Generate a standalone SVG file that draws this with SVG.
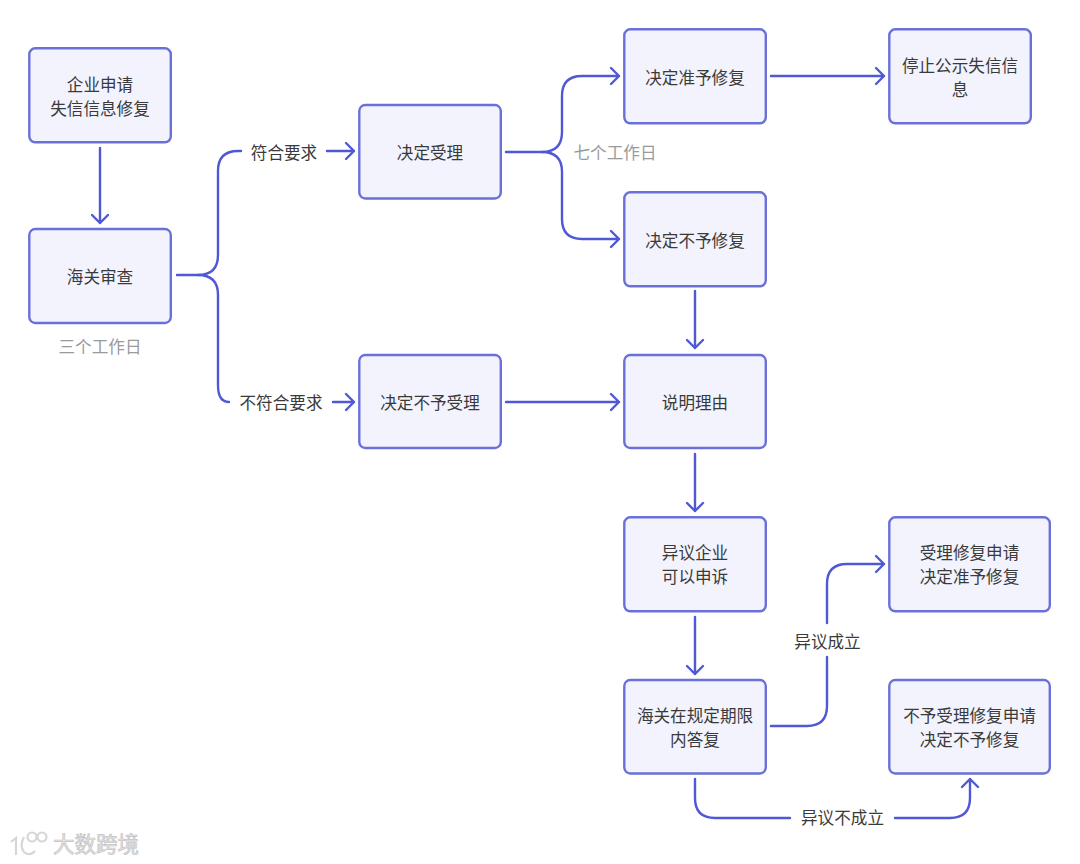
<svg xmlns="http://www.w3.org/2000/svg" width="1080" height="864" viewBox="0 0 1080 864">
<style>
text{font-family:"Noto Sans CJK SC","Noto Sans",sans-serif;font-size:16.6px;fill:#3a3a3a;text-anchor:middle}
.n rect{fill:#f2f3fd;stroke:#6a70d8;stroke-width:2.4}
.c path{fill:none;stroke:#5058d6;stroke-width:2.4;stroke-linecap:round;stroke-linejoin:round}
.g{fill:#9a9a9a}
.w{font-size:21.500px;fill:#e4e4e4;stroke:#c4c4c4;stroke-width:.7}
.wl path,.wl circle{fill:none;stroke:#d6d6d6;stroke-width:2.2}
</style>
<rect width="1080" height="864" fill="#fff"/>
<g id="connectors" class="c">
<path d="M100 148V223M92 215L100 223L108 215"/>
<path d="M177 275H198Q218 275 218 255V171Q218 151 238 151H241"/>
<path d="M198 275Q218 275 218 295V385Q218 402 229 402"/>
<path d="M327 151H354M346 143L354 151L346 159"/>
<path d="M333 402H354M346 394L354 402L346 410"/>
<path d="M506 152H542Q562 152 562 132V96Q562 76 582 76H619M611 68L619 76L611 84"/>
<path d="M542 152Q562 152 562 172V219Q562 239 582 239H619M611 231L619 239L611 247"/>
<path d="M771 76H884M876 68L884 76L876 84"/>
<path d="M506 402H619M611 394L619 402L611 410"/>
<path d="M695 291V348M687 340L695 348L703 340"/>
<path d="M695 454V511M687 503L695 511L703 503"/>
<path d="M695 617V674M687 666L695 674L703 666"/>
<path d="M771 726H807Q827 726 827 706V657M827 623V584Q827 564 847 564H884M876 556L884 564L876 572"/>
<path d="M695 779V798Q695 818 715 818H790M895 818H950Q970 818 970 798V779M962 787L970 779L978 787"/>
</g>
<g id="n1" class="n"><rect x="29.300" y="48.300" width="141.500" height="94" rx="6"/><text x="100" y="90.500">企业申请</text><text x="100" y="114.500">失信信息修复</text></g>
<g id="n2" class="n"><rect x="29.300" y="229" width="141.500" height="94" rx="6"/><text x="100" y="283">海关审查</text></g>
<g id="n3" class="n"><rect x="359.300" y="105" width="141.500" height="93.500" rx="6"/><text x="430" y="159">决定受理</text></g>
<g id="n4" class="n"><rect x="359.300" y="355" width="141.500" height="93" rx="6"/><text x="430" y="408.500">决定不予受理</text></g>
<g id="n5" class="n"><rect x="624.300" y="29.300" width="141.500" height="94" rx="6"/><text x="695" y="83.500">决定准予修复</text></g>
<g id="n6" class="n"><rect x="889.300" y="29.300" width="141.500" height="94" rx="6"/><text x="960" y="71.500">停止公示失信信</text><text x="960" y="95.500">息</text></g>
<g id="n7" class="n"><rect x="624.300" y="192.300" width="141.500" height="94" rx="6"/><text x="695" y="246.500">决定不予修复</text></g>
<g id="n8" class="n"><rect x="624.300" y="355" width="141.500" height="93" rx="6"/><text x="695" y="408.500">说明理由</text></g>
<g id="n9" class="n"><rect x="624.300" y="517.300" width="141.500" height="94" rx="6"/><text x="695" y="559">异议企业</text><text x="695" y="583">可以申诉</text></g>
<g id="n10" class="n"><rect x="624.300" y="680" width="141.500" height="93.500" rx="6"/><text x="695" y="721.500">海关在规定期限</text><text x="695" y="746">内答复</text></g>
<g id="n11" class="n"><rect x="889.300" y="517.300" width="160.500" height="94" rx="6"/><text x="969.500" y="559">受理修复申请</text><text x="969.500" y="583">决定准予修复</text></g>
<g id="n12" class="n"><rect x="889.300" y="680" width="160.500" height="93.500" rx="6"/><text x="969.500" y="721.500">不予受理修复申请</text><text x="969.500" y="746">决定不予修复</text></g>
<g id="labels">
<text x="284" y="158.500">符合要求</text>
<text x="281" y="408.500">不符合要求</text>
<text x="827.500" y="648">异议成立</text>
<text x="842.500" y="824">异议不成立</text>
<text class="g" x="100" y="352.500">三个工作日</text>
<text class="g" x="615" y="158.500">七个工作日</text>
</g>
<g id="watermark">
<g class="wl"><path d="M11 842L16 838V855M24 837Q19 846 24 852Q30 857 35 851"/><circle cx="32" cy="837" r="4.500"/><circle cx="42" cy="837" r="4.500"/></g>
<text class="w" x="96" y="852">大数跨境</text>
</g>
</svg>
